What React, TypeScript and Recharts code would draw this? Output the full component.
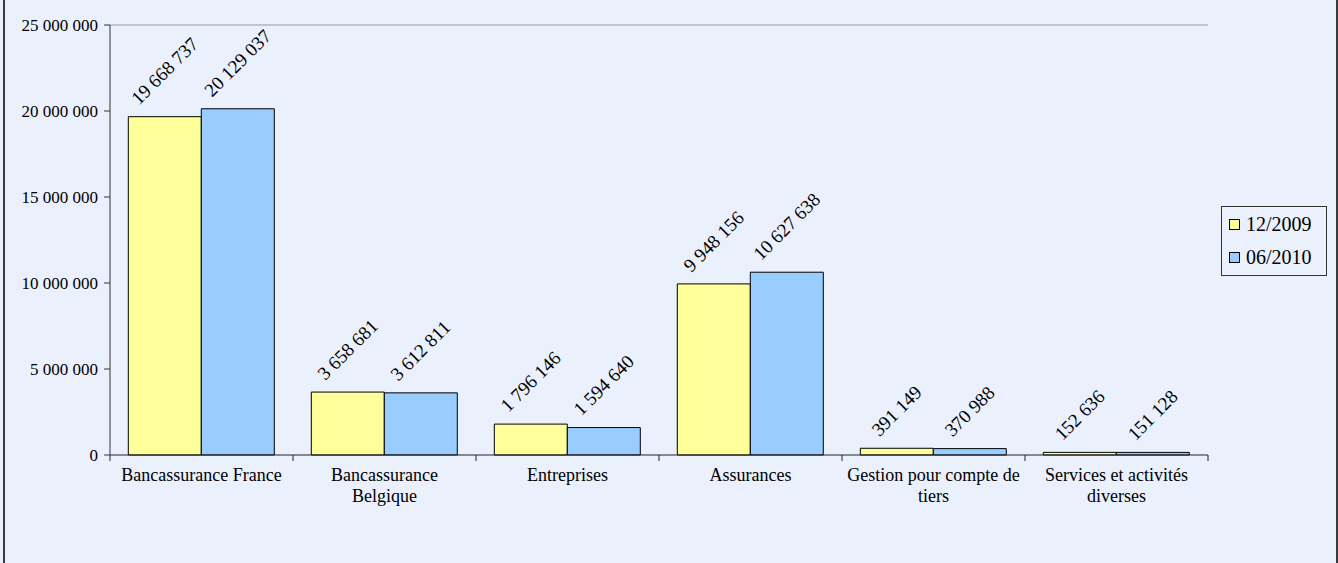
import React from 'react';
import { BarChart, Bar, XAxis, YAxis, Legend, LabelList, ReferenceLine } from 'recharts';

const categories = [
  'Bancassurance France',
  'Bancassurance\nBelgique',
  'Entreprises',
  'Assurances',
  'Gestion pour compte de\ntiers',
  'Services et activités\ndiverses',
];
const series2009 = [19668737, 3658681, 1796146, 9948156, 391149, 152636];
const series2010 = [20129037, 3612811, 1594640, 10627638, 370988, 151128];
const yTicks = [0, 5000000, 10000000, 15000000, 20000000, 25000000];
const seriesNames = ['12/2009', '06/2010'];
const colors = ['#FFFF99', '#99CCFF'];

const data = categories.map((c, i) => ({ name: c, a: series2009[i], b: series2010[i] }));

const FONT = "'Liberation Serif', Tinos, 'Times New Roman', 'DejaVu Serif', serif";
const fmt = (v: number) => String(v).replace(/\B(?=(\d{3})+(?!\d))/g, ' ');

const ValueLabel = (props: any) => {
  const { x, y, width, value } = props;
  const fs = 19;
  const s = fmt(Number(value));
  const digits = s.replace(/ /g, '').length;
  const spaces = s.length - digits;
  const L = fs * (0.5 * digits + 0.25 * spaces);
  const h = fs * 0.66;
  const cx = Number(x) + Number(width) / 2;
  const sx = cx - (L - h) / (2 * Math.SQRT2);
  const sy = Number(y) - 11;
  return (
    <text x={sx} y={sy} transform={`rotate(-45 ${sx} ${sy})`} fontSize={fs} fill="#000" textAnchor="start" style={{ fontFamily: FONT }}>
      {s}
    </text>
  );
};

const CatTick = (props: any) => {
  const { x, y, payload, index, visibleTicksCount, width } = props;
  const lines = String(payload.value).split('\n');
  const half =
    payload && typeof payload.offset === 'number' && payload.offset > 0
      ? payload.offset
      : Number(width) / Number(visibleTicksCount) / 2;
  const isLast = index === visibleTicksCount - 1;
  return (
    <g>
      <line x1={x - half} x2={x - half} y1={y - 8} y2={y - 2} stroke="#222" />
      {isLast && <line x1={x + half} x2={x + half} y1={y - 8} y2={y - 2} stroke="#222" />}
      <text x={x} y={y} textAnchor="middle" fontSize={18} fill="#000" style={{ fontFamily: FONT }}>
        {lines.map((l, i) => (
          <tspan key={i} x={x} dy={i === 0 ? 18 : 21}>
            {l}
          </tspan>
        ))}
      </text>
    </g>
  );
};

const LegendBox = () => (
  <div
    style={{
      border: '1px solid #333',
      background: '#EAF0FC',
      padding: '2px 6px 2px 7px',
      fontFamily: FONT,
      fontSize: 20,
      color: '#000',
      width: 91,
    }}
  >
    {seriesNames.map((n, i) => (
      <div key={n} style={{ display: 'flex', alignItems: 'center', height: 31, marginTop: i === 0 ? 0 : 2 }}>
        <span
          style={{
            display: 'inline-block',
            width: 9,
            height: 9,
            border: '1px solid #000',
            background: colors[i],
            marginRight: 6,
          }}
        />
        <span>{n}</span>
      </div>
    ))}
  </div>
);

export default function App() {
  return (
    <div
      style={{
        position: 'fixed',
        left: 0,
        top: 0,
        width: 1338,
        height: 563,
        overflow: 'hidden',
        background: '#EAF0FC',
        fontFamily: FONT,
      }}
    >
      <div
        style={{
          position: 'absolute',
          left: 3,
          top: -10,
          width: 1331,
          height: 600,
          border: '2px solid #3a3a3a',
          background: '#EAF0FC',
        }}
      />
      <div style={{ position: 'absolute', left: 0, top: 0 }}>
        <BarChart
          width={1338}
          height={563}
          data={data}
          margin={{ top: 25, right: 130, left: 10, bottom: 48 }}
          barCategoryGap="10%"
          barGap={0}
          style={{ fontFamily: FONT }}
        >
          <XAxis
            dataKey="name"
            height={60}
            axisLine={{ stroke: '#222' }}
            tickLine={false}
            tickSize={6}
            interval={0}
            tick={<CatTick />}
          />
          <YAxis
            width={100}
            domain={[0, 25000000]}
            ticks={yTicks}
            tickFormatter={fmt}
            axisLine={{ stroke: '#333' }}
            tickLine={{ stroke: '#333' }}
            tickSize={6}
            tickMargin={6}
            tick={{ fontSize: 17, fill: '#000', style: { fontFamily: FONT } }}
          />
          <YAxis
            yAxisId="right"
            orientation="right"
            width={0}
            domain={[0, 25000000]}
            tick={false}
            tickLine={false}
            axisLine={{ stroke: '#999' }}
          />
          <ReferenceLine y={25000000} stroke="#999" />
          <Legend
            layout="vertical"
            align="center"
            verticalAlign="middle"
            content={<LegendBox />}
            wrapperStyle={{ left: 1221, top: 206, width: 106 }}
          />
          <Bar dataKey="a" name={seriesNames[0]} fill={colors[0]} stroke="#000" strokeWidth={1} isAnimationActive={false}>
            <LabelList dataKey="a" content={<ValueLabel />} />
          </Bar>
          <Bar dataKey="b" name={seriesNames[1]} fill={colors[1]} stroke="#000" strokeWidth={1} isAnimationActive={false}>
            <LabelList dataKey="b" content={<ValueLabel />} />
          </Bar>
        </BarChart>
      </div>
    </div>
  );
}
